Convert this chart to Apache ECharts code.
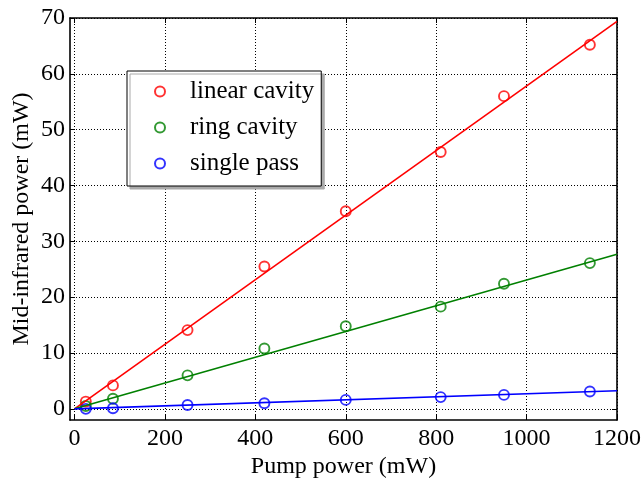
<!DOCTYPE html>
<html>
<head>
<meta charset="utf-8">
<script src="https://cdn.jsdelivr.net/npm/echarts@6/dist/echarts.min.js"></script>
<style>
html,body{margin:0;padding:0;background:#fff;}
#chart{width:642px;height:479px;}
</style>
</head>
<body>
<div id="chart"></div>
<script>
// ---- data ----
var pumpPower = [25, 85, 250, 420, 600, 810, 950, 1140];
var linearCavity = [1.3, 4.2, 14.1, 25.5, 35.4, 46.0, 56.0, 65.2];
var ringCavity = [0.5, 1.8, 6.0, 10.8, 14.8, 18.3, 22.4, 26.1];
var singlePass = [0.0, 0.1, 0.7, 1.0, 1.6, 2.1, 2.5, 3.1];
var fitX = [0, 1200];
var linearFit = [0, 69.4];
var ringFit = [0, 27.7];
var singleFit = [0, 3.25];
var xTicks = [0, 200, 400, 600, 800, 1000, 1200];
var yTicks = [0, 10, 20, 30, 40, 50, 60, 70];

function pairs(xs, ys) { return xs.map(function (x, i) { return [x, ys[i]]; }); }

var FONT = '"Liberation Serif", "Times New Roman", serif';
var chart = echarts.init(document.getElementById('chart'), null, {renderer: 'canvas'});

function scatter(name, color, ys) {
  return {
    name: name, type: 'scatter', data: pairs(pumpPower, ys),
    symbol: 'circle', symbolSize: 10, z: 3,
    itemStyle: {color: 'rgba(255,255,255,0)', borderColor: color, borderWidth: 1.9}
  };
}
function fit(color, ys) {
  return {
    type: 'line', data: pairs(fitX, ys), showSymbol: false, symbol: 'none', z: 4,
    lineStyle: {color: color, width: 1.6}, silent: true, animation: false
  };
}
function plain(v) { return String(v); }

var axisLine = {show: true, onZero: false, lineStyle: {color: '#000', width: 1.6}};
var tick = {show: true, inside: true, length: 5, lineStyle: {color: '#000', width: 1}};
var grid = {show: true, lineStyle: {color: '#000', width: 1, type: [1, 2]}};

var option = {
  animation: false,
  backgroundColor: '#fff',
  grid: {left: 70, top: 18, right: 25, bottom: 59, containLabel: false, outerBoundsMode: 'none'},
  legend: {
    orient: 'vertical', left: 127, top: 71,
    data: ['linear cavity', 'ring cavity', 'single pass'],
    itemWidth: 50, itemHeight: 10, itemGap: 11,
    padding: [8, 7, 10, 27],
    backgroundColor: '#fff', borderColor: '#000', borderWidth: 1, borderRadius: 0,
    shadowColor: '#aaa', shadowBlur: 0, shadowOffsetX: 3, shadowOffsetY: 3,
    textStyle: {fontFamily: FONT, fontSize: 25, color: '#000', lineHeight: 24}
  },
  xAxis: [{
    type: 'value', min: -10, max: 1200, interval: 200, position: 'bottom',
    name: 'Pump power (mW)', nameLocation: 'middle', nameGap: 35, nameMoveOverlap: false,
    nameTextStyle: {fontFamily: FONT, fontSize: 24, color: '#000'},
    axisLine: axisLine, axisTick: Object.assign({customValues: xTicks}, tick),
    axisLabel: {customValues: xTicks, formatter: plain, fontFamily: FONT, fontSize: 24, color: '#000', margin: 7},
    splitLine: grid
  }, {
    type: 'value', min: -10, max: 1200, interval: 200, position: 'top',
    axisLine: axisLine, axisTick: Object.assign({customValues: xTicks}, tick),
    axisLabel: {show: false}, splitLine: {show: false}
  }],
  yAxis: [{
    type: 'value', min: -2, max: 70, interval: 10, position: 'left',
    name: 'Mid-infrared power (mW)', nameLocation: 'middle', nameGap: 36, nameMoveOverlap: false, nameRotate: 90,
    nameTextStyle: {fontFamily: FONT, fontSize: 24, color: '#000'},
    axisLine: axisLine, axisTick: Object.assign({customValues: yTicks}, tick),
    axisLabel: {customValues: yTicks, formatter: plain, fontFamily: FONT, fontSize: 24, color: '#000', margin: 5},
    splitLine: grid
  }, {
    type: 'value', min: -2, max: 70, interval: 10, position: 'right',
    axisLine: axisLine, axisTick: Object.assign({customValues: yTicks}, tick),
    axisLabel: {show: false}, splitLine: {show: false}
  }],
  series: [
    scatter('linear cavity', '#ff0000', linearCavity),
    scatter('ring cavity', '#008000', ringCavity),
    scatter('single pass', '#0000ff', singlePass),
    fit('#ff0000', linearFit),
    fit('#008000', ringFit),
    fit('#0000ff', singleFit)
  ]
};
chart.setOption(option);
</script>
</body>
</html>
